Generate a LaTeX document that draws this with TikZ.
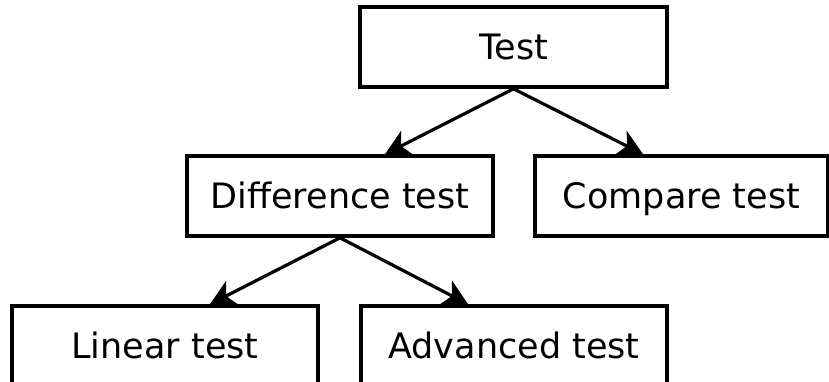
\documentclass[tikz,border=0pt]{standalone}
\usepackage{fontspec}
\setmainfont{DejaVu Sans}
\usetikzlibrary{arrows.meta}
\begin{document}
\begin{tikzpicture}[x=1pt,y=-1pt,
  box/.style={draw=black,line width=3.6pt,minimum width=#1,minimum height=80pt,inner sep=0pt,
    font=\fontsize{35}{40}\selectfont,text height=25.5pt,text depth=0pt},
  arr/.style={line width=3.2pt,-{Stealth[length=25pt,width=27pt,inset=7pt]}}]
\useasboundingbox (0,0) rectangle (829,382);
\fill[white] (0,0) rectangle (829,382);
\node[box=307pt] (test) at (513.5,47) {Test};
\node[box=306pt] (diff) at (340,196) {Difference test};
\node[box=293pt] (comp) at (681.5,196) {Compare test};
\node[box=306pt] (lin) at (165,346) {Linear test};
\node[box=306pt] (adv) at (514,346) {Advanced test};
\draw[arr] (test.south) -- ([xshift=45pt]diff.north);
\draw[arr] (test.south) -- ([xshift=-38.5pt]comp.north);
\draw[arr] (diff.south) -- ([xshift=45pt]lin.north);
\draw[arr] (diff.south) -- ([xshift=-46pt]adv.north);
\end{tikzpicture}
\end{document}
